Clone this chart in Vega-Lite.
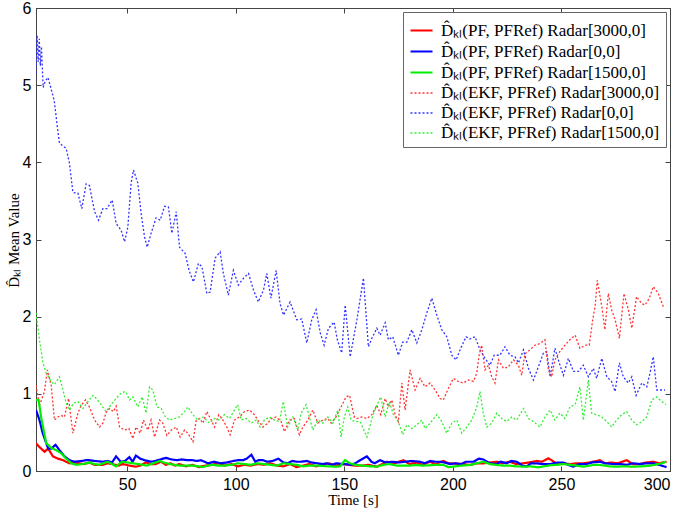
{
"$schema": "https://vega.github.io/schema/vega-lite/v6.json",
"width": 634, "height": 463,
"autosize": {"type": "none"},
"padding": {"left": 36, "top": 8, "right": 14, "bottom": 41},
"background": "white",
"config": {
  "view": {"stroke": "#444", "strokeWidth": 1},
  "axis": {"grid": false, "domainColor": "#444", "tickColor": "#444", "tickSize": -5, "labelFont": "Liberation Sans", "labelFontSize": 16, "labelColor": "#000", "titleFont": "Liberation Serif", "titleFontSize": 15, "titleFontWeight": "normal", "titleColor": "#000"}
},
"data": {"values": [
{"s":"e","t":8,"v":5.15},{"s":"e","t":8.5,"v":5.65},{"s":"e","t":9,"v":5.3},{"s":"e","t":9.5,"v":5.6},{"s":"e","t":10,"v":5.25},{"s":"e","t":10.5,"v":5.5},{"s":"e","t":11.3,"v":4.97},{"s":"e","t":12.2,"v":5.05},{"s":"e","t":13.5,"v":5.1},{"s":"e","t":14.5,"v":5.0},{"s":"e","t":16.4,"v":4.8},{"s":"e","t":18,"v":4.42},{"s":"e","t":18.8,"v":4.25},{"s":"e","t":20,"v":4.22},{"s":"e","t":21.9,"v":4.18},{"s":"e","t":23.4,"v":3.99},{"s":"e","t":25,"v":3.61},{"s":"e","t":27.3,"v":3.6},{"s":"e","t":29.1,"v":3.4},{"s":"e","t":31.1,"v":3.72},{"s":"e","t":32.6,"v":3.7},{"s":"e","t":35,"v":3.36},{"s":"e","t":36.8,"v":3.25},{"s":"e","t":38.8,"v":3.4},{"s":"e","t":40.7,"v":3.4},{"s":"e","t":43.1,"v":3.51},{"s":"e","t":44.9,"v":3.21},{"s":"e","t":47.2,"v":3.12},{"s":"e","t":48.8,"v":2.97},{"s":"e","t":50.3,"v":3.16},{"s":"e","t":51.8,"v":3.73},{"s":"e","t":52.9,"v":3.9},{"s":"e","t":54.9,"v":3.73},{"s":"e","t":56.4,"v":3.34},{"s":"e","t":58,"v":3.03},{"s":"e","t":59.2,"v":2.9},{"s":"e","t":61,"v":3.08},{"s":"e","t":63.3,"v":3.28},{"s":"e","t":65.2,"v":3.25},{"s":"e","t":67.2,"v":3.43},{"s":"e","t":69,"v":3.42},{"s":"e","t":70.6,"v":3.08},{"s":"e","t":72.6,"v":3.36},{"s":"e","t":74.1,"v":2.9},{"s":"e","t":76.7,"v":2.82},{"s":"e","t":78.5,"v":2.6},{"s":"e","t":80.5,"v":2.45},{"s":"e","t":82.8,"v":2.69},{"s":"e","t":84.4,"v":2.65},{"s":"e","t":86.7,"v":2.3},{"s":"e","t":88.2,"v":2.32},{"s":"e","t":90.5,"v":2.76},{"s":"e","t":92.8,"v":2.84},{"s":"e","t":94.3,"v":2.56},{"s":"e","t":96.6,"v":2.28},{"s":"e","t":98.9,"v":2.6},{"s":"e","t":101.2,"v":2.41},{"s":"e","t":103.6,"v":2.5},{"s":"e","t":105.9,"v":2.56},{"s":"e","t":108.1,"v":2.35},{"s":"e","t":110.4,"v":2.19},{"s":"e","t":112.8,"v":2.35},{"s":"e","t":114.3,"v":2.56},{"s":"e","t":116.2,"v":2.24},{"s":"e","t":118.6,"v":2.6},{"s":"e","t":120.4,"v":2.17},{"s":"e","t":122,"v":2.02},{"s":"e","t":125,"v":2.19},{"s":"e","t":128.1,"v":1.96},{"s":"e","t":130.4,"v":1.97},{"s":"e","t":132.7,"v":1.66},{"s":"e","t":135,"v":1.96},{"s":"e","t":137,"v":2.09},{"s":"e","t":138.9,"v":1.79},{"s":"e","t":140.7,"v":1.63},{"s":"e","t":142.7,"v":1.85},{"s":"e","t":145.3,"v":1.93},{"s":"e","t":146.8,"v":1.7},{"s":"e","t":148.8,"v":1.53},{"s":"e","t":150.4,"v":2.15},{"s":"e","t":152.7,"v":1.48},{"s":"e","t":155.8,"v":1.96},{"s":"e","t":158.8,"v":2.5},{"s":"e","t":161.1,"v":1.61},{"s":"e","t":162.7,"v":1.72},{"s":"e","t":165,"v":1.85},{"s":"e","t":166.5,"v":1.76},{"s":"e","t":168.8,"v":1.92},{"s":"e","t":170.3,"v":1.7},{"s":"e","t":172.3,"v":1.74},{"s":"e","t":174.9,"v":1.5},{"s":"e","t":176.9,"v":1.67},{"s":"e","t":178.8,"v":1.67},{"s":"e","t":181.1,"v":1.83},{"s":"e","t":183.4,"v":1.66},{"s":"e","t":185.7,"v":1.83},{"s":"e","t":188,"v":2.05},{"s":"e","t":190.3,"v":2.24},{"s":"e","t":192.6,"v":2.02},{"s":"e","t":194.9,"v":1.83},{"s":"e","t":197.2,"v":1.74},{"s":"e","t":199.5,"v":1.5},{"s":"e","t":201.5,"v":1.44},{"s":"e","t":203.6,"v":1.59},{"s":"e","t":206.1,"v":1.74},{"s":"e","t":207.9,"v":1.71},{"s":"e","t":210.2,"v":1.74},{"s":"e","t":212.5,"v":1.57},{"s":"e","t":214.8,"v":1.46},{"s":"e","t":217.1,"v":1.37},{"s":"e","t":219,"v":1.5},{"s":"e","t":221.7,"v":1.5},{"s":"e","t":224,"v":1.61},{"s":"e","t":226.3,"v":1.5},{"s":"e","t":228.6,"v":1.48},{"s":"e","t":230.2,"v":1.4},{"s":"e","t":232.5,"v":1.57},{"s":"e","t":234.8,"v":1.33},{"s":"e","t":237.1,"v":1.18},{"s":"e","t":239.4,"v":1.35},{"s":"e","t":241.7,"v":1.53},{"s":"e","t":243.2,"v":1.55},{"s":"e","t":244.8,"v":1.22},{"s":"e","t":247,"v":1.59},{"s":"e","t":249,"v":1.4},{"s":"e","t":250.9,"v":1.24},{"s":"e","t":253.2,"v":1.46},{"s":"e","t":255.5,"v":1.29},{"s":"e","t":257.8,"v":1.29},{"s":"e","t":260.1,"v":1.37},{"s":"e","t":262.4,"v":1.22},{"s":"e","t":264.7,"v":1.33},{"s":"e","t":266.2,"v":1.2},{"s":"e","t":268.6,"v":1.46},{"s":"e","t":270.9,"v":1.22},{"s":"e","t":273.1,"v":1.16},{"s":"e","t":274.7,"v":1.03},{"s":"e","t":276.7,"v":1.4},{"s":"e","t":278.5,"v":1.22},{"s":"e","t":280.8,"v":1.14},{"s":"e","t":282.4,"v":1.22},{"s":"e","t":284.4,"v":0.98},{"s":"e","t":287,"v":1.14},{"s":"e","t":289.3,"v":1.09},{"s":"e","t":290.8,"v":1.27},{"s":"e","t":292.3,"v":1.48},{"s":"e","t":293.9,"v":1.05},{"s":"e","t":296.2,"v":1.05},{"s":"e","t":297.7,"v":1.05},
{"s":"d","t":8,"v":1.11},{"s":"d","t":9.6,"v":0.85},{"s":"d","t":11.9,"v":1.03},{"s":"d","t":13.2,"v":1.31},{"s":"d","t":15,"v":1.11},{"s":"d","t":16.5,"v":0.66},{"s":"d","t":18.1,"v":0.7},{"s":"d","t":19.6,"v":0.72},{"s":"d","t":21.1,"v":0.7},{"s":"d","t":23,"v":0.94},{"s":"d","t":25,"v":0.49},{"s":"d","t":27.3,"v":0.75},{"s":"d","t":28.8,"v":0.85},{"s":"d","t":30.8,"v":0.92},{"s":"d","t":32.6,"v":0.83},{"s":"d","t":35,"v":0.66},{"s":"d","t":37.3,"v":0.57},{"s":"d","t":38.8,"v":0.62},{"s":"d","t":40.3,"v":0.76},{"s":"d","t":41.9,"v":0.81},{"s":"d","t":43.7,"v":0.77},{"s":"d","t":44.9,"v":0.84},{"s":"d","t":46.5,"v":0.57},{"s":"d","t":48.8,"v":0.53},{"s":"d","t":50.8,"v":0.55},{"s":"d","t":52.6,"v":0.42},{"s":"d","t":54.1,"v":0.57},{"s":"d","t":56,"v":0.49},{"s":"d","t":57.5,"v":0.66},{"s":"d","t":59.5,"v":0.53},{"s":"d","t":61,"v":0.66},{"s":"d","t":62.6,"v":0.44},{"s":"d","t":64.9,"v":0.66},{"s":"d","t":66.4,"v":0.62},{"s":"d","t":68.3,"v":0.46},{"s":"d","t":70.3,"v":0.53},{"s":"d","t":72.6,"v":0.57},{"s":"d","t":74.4,"v":0.44},{"s":"d","t":76.4,"v":0.53},{"s":"d","t":77.9,"v":0.49},{"s":"d","t":80.3,"v":0.38},{"s":"d","t":81.8,"v":0.66},{"s":"d","t":83.3,"v":0.68},{"s":"d","t":84.9,"v":0.62},{"s":"d","t":86.7,"v":0.77},{"s":"d","t":88.7,"v":0.66},{"s":"d","t":90.2,"v":0.57},{"s":"d","t":92.2,"v":0.73},{"s":"d","t":94.1,"v":0.66},{"s":"d","t":95.9,"v":0.57},{"s":"d","t":97.4,"v":0.47},{"s":"d","t":99.4,"v":0.66},{"s":"d","t":101.7,"v":0.7},{"s":"d","t":104,"v":0.77},{"s":"d","t":106.3,"v":0.79},{"s":"d","t":108.6,"v":0.73},{"s":"d","t":110.6,"v":0.64},{"s":"d","t":112.5,"v":0.57},{"s":"d","t":114.8,"v":0.62},{"s":"d","t":116.3,"v":0.68},{"s":"d","t":118.6,"v":0.7},{"s":"d","t":120.9,"v":0.64},{"s":"d","t":122.4,"v":0.51},{"s":"d","t":124.7,"v":0.66},{"s":"d","t":127,"v":0.68},{"s":"d","t":129.3,"v":0.47},{"s":"d","t":130.9,"v":0.57},{"s":"d","t":133.2,"v":0.66},{"s":"d","t":135.5,"v":0.79},{"s":"d","t":137.8,"v":0.62},{"s":"d","t":140.1,"v":0.66},{"s":"d","t":142.4,"v":0.68},{"s":"d","t":143.9,"v":0.62},{"s":"d","t":146.2,"v":0.7},{"s":"d","t":148.5,"v":0.83},{"s":"d","t":150.8,"v":0.96},{"s":"d","t":152.4,"v":0.98},{"s":"d","t":154.6,"v":0.7},{"s":"d","t":155.8,"v":0.68},{"s":"d","t":158.1,"v":0.7},{"s":"d","t":160.4,"v":0.68},{"s":"d","t":162.7,"v":0.73},{"s":"d","t":165,"v":0.85},{"s":"d","t":166.8,"v":0.73},{"s":"d","t":168.8,"v":0.94},{"s":"d","t":170.3,"v":0.83},{"s":"d","t":171.9,"v":0.92},{"s":"d","t":173.4,"v":0.73},{"s":"d","t":174.9,"v":0.64},{"s":"d","t":176.5,"v":1.14},{"s":"d","t":178,"v":0.79},{"s":"d","t":180.3,"v":1.31},{"s":"d","t":182.6,"v":1.05},{"s":"d","t":184.9,"v":1.2},{"s":"d","t":187.2,"v":1.09},{"s":"d","t":189.5,"v":1.14},{"s":"d","t":191.8,"v":1.05},{"s":"d","t":194.1,"v":0.94},{"s":"d","t":195.6,"v":0.92},{"s":"d","t":197.9,"v":1.07},{"s":"d","t":200.2,"v":1.2},{"s":"d","t":202.5,"v":1.16},{"s":"d","t":204.8,"v":1.14},{"s":"d","t":207.2,"v":1.18},{"s":"d","t":209.5,"v":1.16},{"s":"d","t":211,"v":1.27},{"s":"d","t":212.2,"v":1.52},{"s":"d","t":213.3,"v":1.63},{"s":"d","t":214.8,"v":1.31},{"s":"d","t":216.4,"v":1.37},{"s":"d","t":217.9,"v":1.22},{"s":"d","t":219.4,"v":1.14},{"s":"d","t":221,"v":1.44},{"s":"d","t":223.3,"v":1.33},{"s":"d","t":225.6,"v":1.35},{"s":"d","t":227.9,"v":1.44},{"s":"d","t":230.2,"v":1.37},{"s":"d","t":231.7,"v":1.24},{"s":"d","t":233.2,"v":1.52},{"s":"d","t":235.5,"v":1.57},{"s":"d","t":237.8,"v":1.63},{"s":"d","t":240.1,"v":1.65},{"s":"d","t":242.4,"v":1.7},{"s":"d","t":244,"v":1.31},{"s":"d","t":245.5,"v":1.22},{"s":"d","t":247,"v":1.44},{"s":"d","t":249.3,"v":1.55},{"s":"d","t":251.6,"v":1.63},{"s":"d","t":253.9,"v":1.7},{"s":"d","t":256.3,"v":1.76},{"s":"d","t":258.5,"v":1.59},{"s":"d","t":260.9,"v":1.63},{"s":"d","t":262.8,"v":1.63},{"s":"d","t":264.4,"v":1.96},{"s":"d","t":265.5,"v":2.13},{"s":"d","t":266.5,"v":2.47},{"s":"d","t":268.6,"v":2.13},{"s":"d","t":270,"v":1.83},{"s":"d","t":271.6,"v":2.3},{"s":"d","t":273.1,"v":2.09},{"s":"d","t":274.7,"v":1.96},{"s":"d","t":276.7,"v":1.72},{"s":"d","t":278.8,"v":2.3},{"s":"d","t":280.8,"v":2.09},{"s":"d","t":282.4,"v":1.85},{"s":"d","t":284.6,"v":2.26},{"s":"d","t":286.9,"v":2.17},{"s":"d","t":288.5,"v":2.15},{"s":"d","t":290.5,"v":2.24},{"s":"d","t":292.3,"v":2.39},{"s":"d","t":294.6,"v":2.3},{"s":"d","t":296.9,"v":2.13},
{"s":"f","t":8,"v":2.05},{"s":"f","t":9.6,"v":1.7},{"s":"f","t":11.2,"v":1.4},{"s":"f","t":12.7,"v":1.27},{"s":"f","t":15,"v":1.16},{"s":"f","t":16.5,"v":1.12},{"s":"f","t":18.8,"v":1.22},{"s":"f","t":20.4,"v":1.05},{"s":"f","t":21.9,"v":0.88},{"s":"f","t":23.4,"v":0.79},{"s":"f","t":25.3,"v":0.88},{"s":"f","t":27.3,"v":0.9},{"s":"f","t":29.6,"v":0.81},{"s":"f","t":31.9,"v":0.9},{"s":"f","t":34.2,"v":0.98},{"s":"f","t":35.7,"v":0.94},{"s":"f","t":38,"v":0.86},{"s":"f","t":40.3,"v":0.77},{"s":"f","t":42.6,"v":0.86},{"s":"f","t":44.9,"v":0.94},{"s":"f","t":47.2,"v":1.01},{"s":"f","t":49.2,"v":1.03},{"s":"f","t":51.1,"v":0.92},{"s":"f","t":52.6,"v":0.96},{"s":"f","t":54.9,"v":0.83},{"s":"f","t":56.9,"v":0.96},{"s":"f","t":58.7,"v":0.75},{"s":"f","t":60.3,"v":1.09},{"s":"f","t":61.8,"v":1.05},{"s":"f","t":63.7,"v":0.83},{"s":"f","t":65.7,"v":0.81},{"s":"f","t":67.6,"v":0.7},{"s":"f","t":69.5,"v":0.66},{"s":"f","t":71.8,"v":0.68},{"s":"f","t":74.1,"v":0.7},{"s":"f","t":76.4,"v":0.77},{"s":"f","t":77.9,"v":0.83},{"s":"f","t":80.3,"v":0.73},{"s":"f","t":82.5,"v":0.66},{"s":"f","t":84.9,"v":0.7},{"s":"f","t":87.9,"v":0.62},{"s":"f","t":90.2,"v":0.68},{"s":"f","t":92.5,"v":0.66},{"s":"f","t":94.8,"v":0.73},{"s":"f","t":97.1,"v":0.68},{"s":"f","t":99.4,"v":0.79},{"s":"f","t":100.9,"v":0.86},{"s":"f","t":102.5,"v":0.66},{"s":"f","t":104.8,"v":0.68},{"s":"f","t":107.1,"v":0.62},{"s":"f","t":109.4,"v":0.66},{"s":"f","t":111.2,"v":0.57},{"s":"f","t":113.2,"v":0.66},{"s":"f","t":115.5,"v":0.7},{"s":"f","t":117.8,"v":0.66},{"s":"f","t":120.1,"v":0.64},{"s":"f","t":121.9,"v":0.9},{"s":"f","t":123.9,"v":0.57},{"s":"f","t":126.3,"v":0.7},{"s":"f","t":128.6,"v":0.53},{"s":"f","t":130.1,"v":0.75},{"s":"f","t":132.4,"v":0.86},{"s":"f","t":133.9,"v":0.7},{"s":"f","t":135.5,"v":0.53},{"s":"f","t":137.8,"v":0.66},{"s":"f","t":140.1,"v":0.62},{"s":"f","t":142.4,"v":0.7},{"s":"f","t":144.7,"v":0.62},{"s":"f","t":147,"v":0.79},{"s":"f","t":148.5,"v":0.44},{"s":"f","t":150,"v":0.7},{"s":"f","t":151.6,"v":0.83},{"s":"f","t":153.1,"v":0.66},{"s":"f","t":155.4,"v":0.64},{"s":"f","t":157.3,"v":0.64},{"s":"f","t":160.4,"v":0.44},{"s":"f","t":162.7,"v":0.68},{"s":"f","t":164.6,"v":0.83},{"s":"f","t":166.8,"v":0.96},{"s":"f","t":168.8,"v":0.7},{"s":"f","t":170.8,"v":0.9},{"s":"f","t":172.6,"v":0.73},{"s":"f","t":174.9,"v":0.64},{"s":"f","t":176.9,"v":0.47},{"s":"f","t":178.8,"v":0.6},{"s":"f","t":181.1,"v":0.55},{"s":"f","t":183.4,"v":0.6},{"s":"f","t":185.7,"v":0.66},{"s":"f","t":187.2,"v":0.55},{"s":"f","t":189.5,"v":0.62},{"s":"f","t":192.6,"v":0.73},{"s":"f","t":194.9,"v":0.64},{"s":"f","t":197.2,"v":0.49},{"s":"f","t":199.5,"v":0.62},{"s":"f","t":201.8,"v":0.66},{"s":"f","t":204.1,"v":0.49},{"s":"f","t":206.4,"v":0.57},{"s":"f","t":208.7,"v":0.66},{"s":"f","t":211,"v":0.83},{"s":"f","t":212.5,"v":1.03},{"s":"f","t":214,"v":0.75},{"s":"f","t":215.6,"v":0.57},{"s":"f","t":217.9,"v":0.62},{"s":"f","t":220.2,"v":0.75},{"s":"f","t":222.5,"v":0.68},{"s":"f","t":224.8,"v":0.64},{"s":"f","t":227.1,"v":0.7},{"s":"f","t":229.4,"v":0.66},{"s":"f","t":232.5,"v":0.81},{"s":"f","t":234.8,"v":0.68},{"s":"f","t":237.1,"v":0.64},{"s":"f","t":240.1,"v":0.57},{"s":"f","t":242.4,"v":0.7},{"s":"f","t":244.8,"v":0.79},{"s":"f","t":247,"v":0.66},{"s":"f","t":249.3,"v":0.75},{"s":"f","t":251.6,"v":0.68},{"s":"f","t":253.9,"v":0.83},{"s":"f","t":256.3,"v":0.86},{"s":"f","t":258.5,"v":1.09},{"s":"f","t":260.1,"v":0.66},{"s":"f","t":262.4,"v":1.18},{"s":"f","t":263.9,"v":0.75},{"s":"f","t":266.2,"v":0.73},{"s":"f","t":268.6,"v":0.7},{"s":"f","t":270.9,"v":0.64},{"s":"f","t":273.1,"v":0.57},{"s":"f","t":275.4,"v":0.66},{"s":"f","t":277.7,"v":0.73},{"s":"f","t":280,"v":0.77},{"s":"f","t":282.4,"v":0.66},{"s":"f","t":284.6,"v":0.6},{"s":"f","t":287,"v":0.64},{"s":"f","t":289.3,"v":0.7},{"s":"f","t":291.6,"v":0.92},{"s":"f","t":293.9,"v":0.96},{"s":"f","t":296.2,"v":0.9},{"s":"f","t":298.2,"v":0.86},
{"s":"a","t":8,"v":0.36},{"s":"a","t":9.6,"v":0.31},{"s":"a","t":11.9,"v":0.25},{"s":"a","t":13.6,"v":0.29},{"s":"a","t":15.8,"v":0.19},{"s":"a","t":18.1,"v":0.16},{"s":"a","t":20.4,"v":0.14},{"s":"a","t":23.4,"v":0.1},{"s":"a","t":26,"v":0.11},{"s":"a","t":28,"v":0.1},{"s":"a","t":30,"v":0.09},{"s":"a","t":32.6,"v":0.11},{"s":"a","t":35,"v":0.08},{"s":"a","t":38.8,"v":0.08},{"s":"a","t":41,"v":0.1},{"s":"a","t":43.4,"v":0.09},{"s":"a","t":46,"v":0.07},{"s":"a","t":48,"v":0.09},{"s":"a","t":51,"v":0.07},{"s":"a","t":54,"v":0.056},{"s":"a","t":56,"v":0.07},{"s":"a","t":58.6,"v":0.11},{"s":"a","t":61,"v":0.09},{"s":"a","t":63.2,"v":0.09},{"s":"a","t":65.5,"v":0.12},{"s":"a","t":67.8,"v":0.08},{"s":"a","t":70,"v":0.1},{"s":"a","t":72,"v":0.07},{"s":"a","t":74,"v":0.09},{"s":"a","t":77,"v":0.06},{"s":"a","t":80,"v":0.08},{"s":"a","t":83,"v":0.05},{"s":"a","t":86,"v":0.07},{"s":"a","t":89,"v":0.08},{"s":"a","t":92,"v":0.1},{"s":"a","t":95,"v":0.07},{"s":"a","t":98,"v":0.09},{"s":"a","t":101,"v":0.06},{"s":"a","t":104,"v":0.08},{"s":"a","t":107,"v":0.07},{"s":"a","t":110,"v":0.09},{"s":"a","t":113,"v":0.08},{"s":"a","t":116,"v":0.1},{"s":"a","t":119,"v":0.07},{"s":"a","t":122,"v":0.06},{"s":"a","t":125,"v":0.09},{"s":"a","t":128,"v":0.05},{"s":"a","t":131,"v":0.07},{"s":"a","t":134,"v":0.09},{"s":"a","t":137,"v":0.06},{"s":"a","t":140,"v":0.08},{"s":"a","t":143,"v":0.1},{"s":"a","t":146,"v":0.07},{"s":"a","t":149,"v":0.09},{"s":"a","t":152,"v":0.08},{"s":"a","t":155,"v":0.07},{"s":"a","t":158,"v":0.069},{"s":"a","t":161,"v":0.08},{"s":"a","t":165,"v":0.056},{"s":"a","t":169.6,"v":0.12},{"s":"a","t":173,"v":0.1},{"s":"a","t":177.2,"v":0.14},{"s":"a","t":180,"v":0.09},{"s":"a","t":183.4,"v":0.11},{"s":"a","t":186,"v":0.08},{"s":"a","t":189.5,"v":0.12},{"s":"a","t":192,"v":0.09},{"s":"a","t":195.6,"v":0.13},{"s":"a","t":198,"v":0.1},{"s":"a","t":201.8,"v":0.095},{"s":"a","t":205,"v":0.09},{"s":"a","t":207.9,"v":0.078},{"s":"a","t":211,"v":0.1},{"s":"a","t":214,"v":0.099},{"s":"a","t":217,"v":0.11},{"s":"a","t":220.2,"v":0.12},{"s":"a","t":223,"v":0.1},{"s":"a","t":226.3,"v":0.12},{"s":"a","t":229,"v":0.09},{"s":"a","t":232.5,"v":0.1},{"s":"a","t":235,"v":0.11},{"s":"a","t":238.6,"v":0.13},{"s":"a","t":241,"v":0.12},{"s":"a","t":244,"v":0.164},{"s":"a","t":246,"v":0.13},{"s":"a","t":248,"v":0.09},{"s":"a","t":250,"v":0.1},{"s":"a","t":253.9,"v":0.09},{"s":"a","t":257,"v":0.1},{"s":"a","t":260.1,"v":0.1},{"s":"a","t":263,"v":0.11},{"s":"a","t":267.7,"v":0.14},{"s":"a","t":270,"v":0.1},{"s":"a","t":273,"v":0.11},{"s":"a","t":276,"v":0.1},{"s":"a","t":280,"v":0.14},{"s":"a","t":283,"v":0.09},{"s":"a","t":286.2,"v":0.09},{"s":"a","t":289,"v":0.11},{"s":"a","t":292.3,"v":0.12},{"s":"a","t":295,"v":0.1},{"s":"a","t":298.4,"v":0.12},
{"s":"b","t":8,"v":0.79},{"s":"b","t":9.6,"v":0.66},{"s":"b","t":11.1,"v":0.49},{"s":"b","t":13.6,"v":0.29},{"s":"b","t":15,"v":0.29},{"s":"b","t":17,"v":0.34},{"s":"b","t":18.8,"v":0.27},{"s":"b","t":21.1,"v":0.19},{"s":"b","t":23.4,"v":0.14},{"s":"b","t":25.7,"v":0.12},{"s":"b","t":28.9,"v":0.13},{"s":"b","t":31,"v":0.14},{"s":"b","t":32.6,"v":0.14},{"s":"b","t":35,"v":0.13},{"s":"b","t":38.8,"v":0.12},{"s":"b","t":41,"v":0.13},{"s":"b","t":43,"v":0.11},{"s":"b","t":44.9,"v":0.19},{"s":"b","t":47,"v":0.12},{"s":"b","t":49,"v":0.13},{"s":"b","t":51,"v":0.18},{"s":"b","t":52.5,"v":0.12},{"s":"b","t":54,"v":0.2},{"s":"b","t":56,"v":0.16},{"s":"b","t":58,"v":0.14},{"s":"b","t":61,"v":0.12},{"s":"b","t":63,"v":0.13},{"s":"b","t":66.5,"v":0.16},{"s":"b","t":68,"v":0.17},{"s":"b","t":70.3,"v":0.15},{"s":"b","t":73,"v":0.14},{"s":"b","t":75,"v":0.15},{"s":"b","t":78,"v":0.14},{"s":"b","t":80,"v":0.14},{"s":"b","t":82,"v":0.13},{"s":"b","t":84,"v":0.14},{"s":"b","t":87.2,"v":0.1},{"s":"b","t":90,"v":0.12},{"s":"b","t":93,"v":0.1},{"s":"b","t":96,"v":0.11},{"s":"b","t":98.8,"v":0.13},{"s":"b","t":101,"v":0.14},{"s":"b","t":103.4,"v":0.14},{"s":"b","t":105,"v":0.16},{"s":"b","t":107.2,"v":0.21},{"s":"b","t":109,"v":0.12},{"s":"b","t":110.5,"v":0.14},{"s":"b","t":112.5,"v":0.14},{"s":"b","t":114.5,"v":0.12},{"s":"b","t":117,"v":0.13},{"s":"b","t":119.6,"v":0.16},{"s":"b","t":122,"v":0.11},{"s":"b","t":124,"v":0.1},{"s":"b","t":126,"v":0.13},{"s":"b","t":128,"v":0.12},{"s":"b","t":130,"v":0.12},{"s":"b","t":132.7,"v":0.13},{"s":"b","t":135,"v":0.11},{"s":"b","t":137.3,"v":0.1},{"s":"b","t":140,"v":0.09},{"s":"b","t":142,"v":0.1},{"s":"b","t":144,"v":0.08},{"s":"b","t":146.5,"v":0.1},{"s":"b","t":149,"v":0.09},{"s":"b","t":150.5,"v":0.09},{"s":"b","t":153,"v":0.08},{"s":"b","t":155,"v":0.1},{"s":"b","t":157.3,"v":0.14},{"s":"b","t":160.4,"v":0.19},{"s":"b","t":162.5,"v":0.12},{"s":"b","t":164,"v":0.1},{"s":"b","t":166.5,"v":0.14},{"s":"b","t":169,"v":0.11},{"s":"b","t":172,"v":0.12},{"s":"b","t":175,"v":0.11},{"s":"b","t":178,"v":0.12},{"s":"b","t":181,"v":0.13},{"s":"b","t":184.9,"v":0.12},{"s":"b","t":187,"v":0.1},{"s":"b","t":189.5,"v":0.13},{"s":"b","t":192,"v":0.12},{"s":"b","t":194,"v":0.12},{"s":"b","t":196,"v":0.11},{"s":"b","t":198.8,"v":0.09},{"s":"b","t":201,"v":0.1},{"s":"b","t":203.8,"v":0.09},{"s":"b","t":206,"v":0.12},{"s":"b","t":209.5,"v":0.12},{"s":"b","t":212,"v":0.16},{"s":"b","t":214,"v":0.15},{"s":"b","t":217,"v":0.1},{"s":"b","t":220,"v":0.09},{"s":"b","t":222,"v":0.12},{"s":"b","t":224.8,"v":0.1},{"s":"b","t":227,"v":0.13},{"s":"b","t":229.4,"v":0.12},{"s":"b","t":232,"v":0.07},{"s":"b","t":234,"v":0.06},{"s":"b","t":236,"v":0.1},{"s":"b","t":238.6,"v":0.1},{"s":"b","t":241,"v":0.09},{"s":"b","t":244.8,"v":0.09},{"s":"b","t":248,"v":0.11},{"s":"b","t":250.9,"v":0.11},{"s":"b","t":253,"v":0.08},{"s":"b","t":255.5,"v":0.056},{"s":"b","t":258,"v":0.09},{"s":"b","t":261.6,"v":0.09},{"s":"b","t":264,"v":0.11},{"s":"b","t":267.7,"v":0.12},{"s":"b","t":270,"v":0.1},{"s":"b","t":273.9,"v":0.09},{"s":"b","t":277,"v":0.09},{"s":"b","t":280,"v":0.08},{"s":"b","t":283,"v":0.1},{"s":"b","t":286.2,"v":0.09},{"s":"b","t":289,"v":0.1},{"s":"b","t":292.3,"v":0.1},{"s":"b","t":295,"v":0.08},{"s":"b","t":298.4,"v":0.05},
{"s":"c","t":8,"v":0.92},{"s":"c","t":9.2,"v":0.92},{"s":"c","t":10.4,"v":0.69},{"s":"c","t":12.7,"v":0.36},{"s":"c","t":15,"v":0.3},{"s":"c","t":17.3,"v":0.27},{"s":"c","t":19.6,"v":0.23},{"s":"c","t":21.9,"v":0.16},{"s":"c","t":24.2,"v":0.1},{"s":"c","t":26.5,"v":0.08},{"s":"c","t":29.6,"v":0.09},{"s":"c","t":32.6,"v":0.11},{"s":"c","t":35,"v":0.09},{"s":"c","t":37,"v":0.08},{"s":"c","t":39,"v":0.1},{"s":"c","t":41,"v":0.12},{"s":"c","t":43,"v":0.09},{"s":"c","t":44.9,"v":0.06},{"s":"c","t":47.5,"v":0.12},{"s":"c","t":50,"v":0.11},{"s":"c","t":52.6,"v":0.1},{"s":"c","t":55,"v":0.09},{"s":"c","t":57.3,"v":0.08},{"s":"c","t":59,"v":0.07},{"s":"c","t":61,"v":0.09},{"s":"c","t":65,"v":0.13},{"s":"c","t":67,"v":0.11},{"s":"c","t":69.5,"v":0.09},{"s":"c","t":72,"v":0.08},{"s":"c","t":74,"v":0.07},{"s":"c","t":77,"v":0.07},{"s":"c","t":80.3,"v":0.07},{"s":"c","t":83,"v":0.06},{"s":"c","t":85,"v":0.05},{"s":"c","t":87,"v":0.07},{"s":"c","t":89.3,"v":0.08},{"s":"c","t":92,"v":0.07},{"s":"c","t":95,"v":0.07},{"s":"c","t":98,"v":0.08},{"s":"c","t":101,"v":0.1},{"s":"c","t":104,"v":0.09},{"s":"c","t":107,"v":0.08},{"s":"c","t":110,"v":0.1},{"s":"c","t":113,"v":0.09},{"s":"c","t":116,"v":0.08},{"s":"c","t":119,"v":0.07},{"s":"c","t":122,"v":0.1},{"s":"c","t":125,"v":0.09},{"s":"c","t":128,"v":0.08},{"s":"c","t":131,"v":0.06},{"s":"c","t":134,"v":0.07},{"s":"c","t":137,"v":0.07},{"s":"c","t":140,"v":0.065},{"s":"c","t":143,"v":0.06},{"s":"c","t":146,"v":0.056},{"s":"c","t":148,"v":0.06},{"s":"c","t":150.3,"v":0.14},{"s":"c","t":152.7,"v":0.1},{"s":"c","t":155,"v":0.08},{"s":"c","t":158.8,"v":0.069},{"s":"c","t":162,"v":0.06},{"s":"c","t":165,"v":0.056},{"s":"c","t":168,"v":0.08},{"s":"c","t":171,"v":0.09},{"s":"c","t":174,"v":0.07},{"s":"c","t":177.2,"v":0.069},{"s":"c","t":180,"v":0.07},{"s":"c","t":183.4,"v":0.078},{"s":"c","t":186,"v":0.07},{"s":"c","t":189.5,"v":0.074},{"s":"c","t":192,"v":0.08},{"s":"c","t":195.6,"v":0.078},{"s":"c","t":198,"v":0.05},{"s":"c","t":201,"v":0.06},{"s":"c","t":204,"v":0.07},{"s":"c","t":207.9,"v":0.078},{"s":"c","t":211,"v":0.1},{"s":"c","t":214,"v":0.12},{"s":"c","t":217,"v":0.09},{"s":"c","t":220.2,"v":0.078},{"s":"c","t":223,"v":0.07},{"s":"c","t":226.3,"v":0.069},{"s":"c","t":229,"v":0.06},{"s":"c","t":233.3,"v":0.056},{"s":"c","t":236,"v":0.06},{"s":"c","t":239.4,"v":0.048},{"s":"c","t":242,"v":0.06},{"s":"c","t":244.8,"v":0.074},{"s":"c","t":248,"v":0.08},{"s":"c","t":250.9,"v":0.09},{"s":"c","t":254,"v":0.08},{"s":"c","t":257,"v":0.07},{"s":"c","t":260.1,"v":0.056},{"s":"c","t":263,"v":0.07},{"s":"c","t":265,"v":0.08},{"s":"c","t":267.7,"v":0.078},{"s":"c","t":270,"v":0.07},{"s":"c","t":272,"v":0.06},{"s":"c","t":275.4,"v":0.056},{"s":"c","t":279,"v":0.06},{"s":"c","t":283.1,"v":0.056},{"s":"c","t":287,"v":0.06},{"s":"c","t":290.8,"v":0.069},{"s":"c","t":293,"v":0.08},{"s":"c","t":296,"v":0.1},{"s":"c","t":298.2,"v":0.12}
]},
"layer": [
  {
    "mark": {"type": "line", "clip": true},
    "encoding": {
      "x": {"field": "t", "type": "quantitative", "scale": {"domain": [8, 300], "nice": false, "zero": false}, "axis": {"orient": "bottom", "values": [50, 100, 150, 200, 250, 300], "title": "Time [s]", "labelPadding": 10, "titlePadding": 0}},
      "y": {"field": "v", "type": "quantitative", "scale": {"domain": [0, 6], "nice": false}, "axis": {"orient": "left", "values": [0, 1, 2, 3, 4, 5, 6], "title": "D\u0302\u2096\u2097 Mean Value", "labelPadding": 10, "titleX": -23, "titleY": 232, "titleAngle": -90, "titleBaseline": "middle", "titleAlign": "center"}},
      "order": {"field": "t", "type": "quantitative"},
      "color": {"field": "s", "type": "nominal", "scale": {"domain": ["a", "b", "c", "d", "e", "f"], "range": ["#ff0000", "#0000ff", "#00ee00", "#ff3333", "#3333ff", "#33ee33"]},
        "legend": {"title": null, "orient": "top-right", "offset": 4, "fillColor": "white", "strokeColor": "#666", "padding": 6, "symbolType": "stroke", "symbolSize": 484, "symbolStrokeWidth": 2, "rowPadding": 0, "labelFont": "Liberation Serif", "labelFontSize": 17, "labelColor": "#000", "labelLimit": 400, "labelOffset": 7,
          "labelExpr": "datum.value == 'a' ? 'D\u0302\u2096\u2097(PF, PFRef) Radar[3000,0]' : datum.value == 'b' ? 'D\u0302\u2096\u2097(PF, PFRef) Radar[0,0]' : datum.value == 'c' ? 'D\u0302\u2096\u2097(PF, PFRef) Radar[1500,0]' : datum.value == 'd' ? 'D\u0302\u2096\u2097(EKF, PFRef) Radar[3000,0]' : datum.value == 'e' ? 'D\u0302\u2096\u2097(EKF, PFRef) Radar[0,0]' : 'D\u0302\u2096\u2097(EKF, PFRef) Radar[1500,0]'"}},
      "strokeDash": {"field": "s", "type": "nominal", "scale": {"domain": ["a", "b", "c", "d", "e", "f"], "range": [[1, 0], [1, 0], [1, 0], [2, 2], [2, 2], [2, 2]]}},
      "strokeWidth": {"field": "s", "type": "nominal", "scale": {"type": "ordinal", "domain": ["a", "b", "c", "d", "e", "f"], "range": [2.2, 2.2, 2.2, 1.3, 1.3, 1.3]}}
    }
  },
  {
    "mark": {"type": "point", "opacity": 0},
    "encoding": {
      "x": {"field": "t", "type": "quantitative", "scale": {"domain": [8, 300], "nice": false, "zero": false}, "axis": {"orient": "top", "values": [50, 100, 150, 200, 250, 300], "labels": false, "title": null}},
      "y": {"field": "v", "type": "quantitative", "scale": {"domain": [0, 6], "nice": false}, "axis": {"orient": "right", "values": [0, 1, 2, 3, 4, 5, 6], "labels": false, "title": null}}
    }
  }
],
"resolve": {"axis": {"x": "independent", "y": "independent"}}
}
